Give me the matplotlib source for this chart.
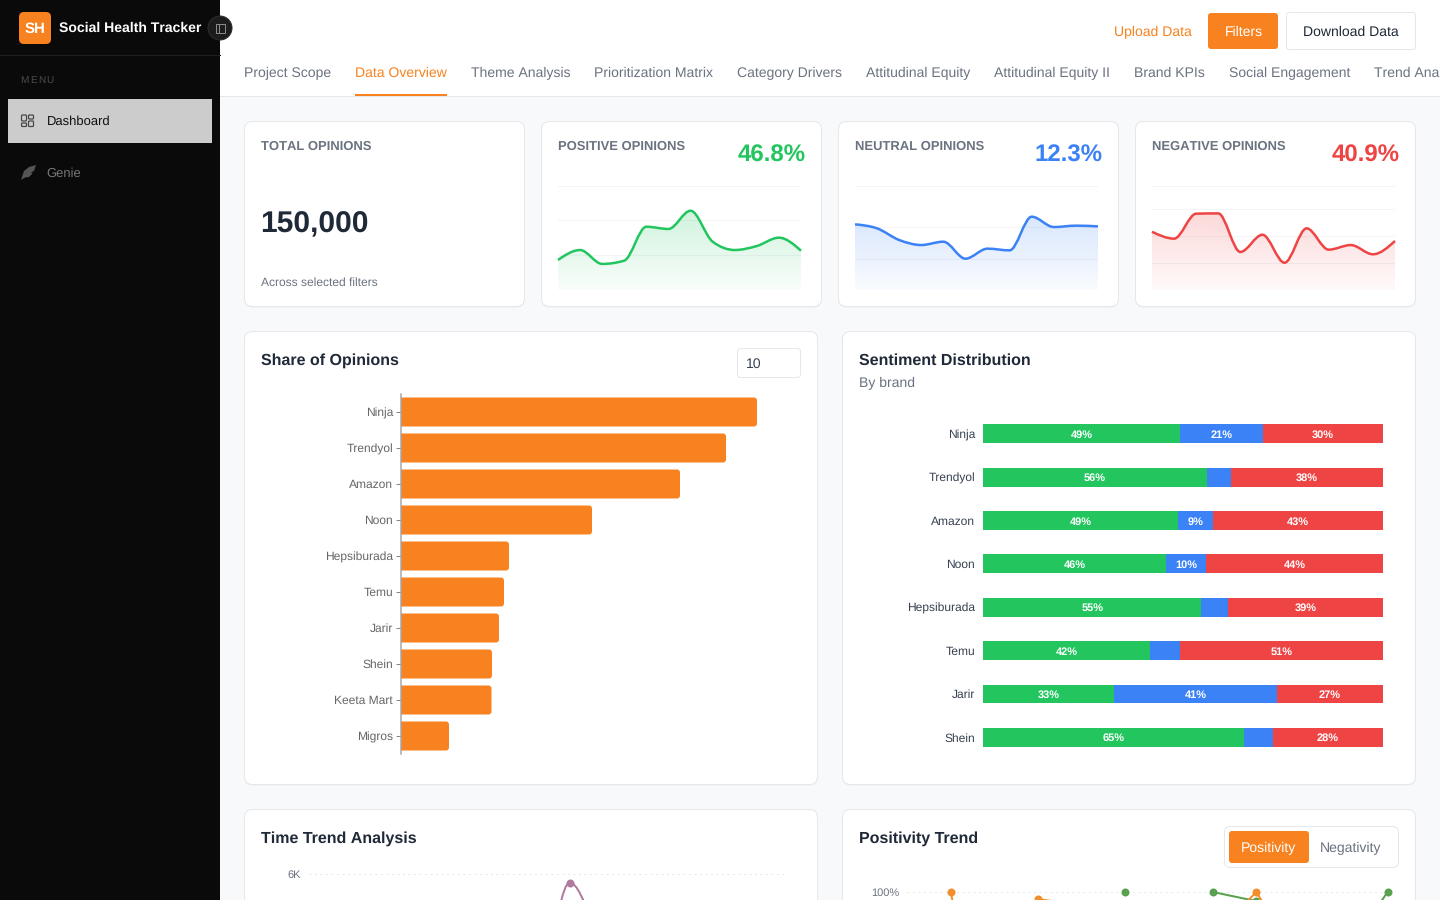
"""Social Health Tracker dashboard, redrawn with matplotlib."""

import numpy as np
import matplotlib
matplotlib.use("Agg")
import matplotlib.pyplot as plt
from matplotlib.patches import FancyBboxPatch, Rectangle, Circle, PathPatch, Polygon
from matplotlib.path import Path

plt.rcParams["font.family"] = ["Liberation Sans", "DejaVu Sans"]
plt.rcParams["text.hinting"] = "no_hinting"
plt.rcParams["text.hinting_factor"] = 1

W, H = 1440, 900
ORANGE = "#f7821f"
GREEN = "#22c55e"
BLUE = "#3b82f6"
RED = "#ef4444"
INK = "#1f2937"
MUTED = "#6b7280"
BORDER = "#e5e7eb"

# --- data ---
tabs = ["Project Scope", "Data Overview", "Theme Analysis", "Prioritization Matrix",
        "Category Drivers", "Attitudinal Equity", "Attitudinal Equity II", "Brand KPIs",
        "Social Engagement", "Trend Analysis"]
tab_starts = [244, 355, 471, 594, 737, 866, 994.5, 1134.5, 1229, 1374.5]

positive_spark = [17.3, 23, 15, 16.9, 36.4, 35.1, 45.6, 27.8, 23, 25.3, 30.1, 22.6]
neutral_spark = [10.48, 9.84, 7.98, 7.18, 7.71, 5.0, 6.6, 6.33, 11.7, 10.05, 10.27, 10.16]
negative_spark = [42.9, 37.8, 56.2, 56.4, 28, 40.7, 20.1, 45.4, 29.7, 33.1, 26.3, 36.1]

share_brands = ["Ninja", "Trendyol", "Amazon", "Noon", "Hepsiburada", "Temu", "Jarir",
                "Shein", "Keeta Mart", "Migros"]
share_values = [356, 325, 279, 191, 108, 103, 98, 91, 90.5, 48]

sent_brands = ["Ninja", "Trendyol", "Amazon", "Noon", "Hepsiburada", "Temu", "Jarir", "Shein"]
sent_pos = [49.25, 55.9, 48.8, 45.8, 54.6, 41.8, 32.8, 65.2]
sent_neu = [20.75, 6.1, 8.6, 9.9, 6.7, 7.4, 40.6, 7.2]
sent_neg = [30, 38, 42.6, 44.3, 38.7, 50.8, 26.6, 27.6]

# only the top of the two lower charts is on screen
time_idx = [4, 5, 6, 7, 8]
time_vals = [0.9, 0.98, 5.77, 3.66, 3.5]
nan = float("nan")
pos_orange = [nan, 100, 0, 96.6, 93.6, nan, nan, 79, 100, 64, nan, nan]
pos_green = [nan, nan, nan, nan, nan, 100, nan, 100, 95.6, nan, 68.5, 100]


def px(v):
    # css px -> pt at dpi 100
    return v * 0.72


def px_axes(x0, y0, x1, y1):
    # axes from pixel box, y measured from the top of the page
    ax = fig.add_axes([x0 / W, 1 - y1 / H, (x1 - x0) / W, (y1 - y0) / H])
    ax.patch.set_alpha(0)
    return ax


def box(x0, y0, x1, y1, fc="white", ec="none", r=8, lw=1.0, z=1):
    p = FancyBboxPatch((x0, y0), x1 - x0, y1 - y0, boxstyle=f"round,pad=0,rounding_size={r}",
                       fc=fc, ec=ec, lw=px(lw), zorder=z)
    bg.add_patch(p)
    return p


def label(x, y, s, size=14, color=INK, ha="left", weight="normal", z=5):
    # y is the middle of the capitals, baseline keeps a row of tabs level
    bg.text(x, y + size * 0.36, s, fontsize=px(size), color=color, ha=ha, va="baseline",
            fontweight=weight, zorder=z)


def monotone_path(xs, ys):
    # same idea as d3 curveMonotoneX
    xs = np.asarray(xs, float)
    ys = np.asarray(ys, float)
    h = np.diff(xs)
    s = np.diff(ys) / h
    m = np.zeros(len(xs))
    for i in range(1, len(xs) - 1):
        p = (s[i - 1] * h[i] + s[i] * h[i - 1]) / (h[i - 1] + h[i])
        m[i] = (np.sign(s[i - 1]) + np.sign(s[i])) * min(abs(s[i - 1]), abs(s[i]), 0.5 * abs(p))
    m[0] = (3 * s[0] - m[1]) / 2
    m[-1] = (3 * s[-1] - m[-2]) / 2
    verts = [(xs[0], ys[0])]
    codes = [Path.MOVETO]
    for i in range(len(xs) - 1):
        d = h[i] / 3
        verts += [(xs[i] + d, ys[i] + m[i] * d), (xs[i + 1] - d, ys[i + 1] - m[i + 1] * d),
                  (xs[i + 1], ys[i + 1])]
        codes += [Path.CURVE4] * 3
    return verts, codes


def sparkline(x0, vals, ticks, ymax, color):
    ax = px_axes(x0, 185.7, x0 + 243, 290)
    xs = np.arange(len(vals))
    verts, codes = monotone_path(xs, vals)
    rgba = np.zeros((64, 1, 4))
    rgba[..., :3] = matplotlib.colors.to_rgb(color)
    rgba[..., 3] = np.linspace(0.03, 0.27, 64)[:, None]
    img = ax.imshow(rgba, extent=(0, len(vals) - 1, 0, ymax), origin="lower", aspect="auto", zorder=2.5)
    area = verts + [(xs[-1], 0), (0, 0), verts[0]]
    area_codes = codes + [Path.LINETO, Path.LINETO, Path.CLOSEPOLY]
    clip = PathPatch(Path(area, area_codes), fc="none", ec="none", transform=ax.transData)
    ax.add_patch(clip)
    img.set_clip_path(clip)
    ax.add_patch(PathPatch(Path(verts, codes), fc="none", ec=color, lw=px(2.5), zorder=3, clip_on=False))
    ax.set_xlim(0, len(vals) - 1)
    ax.set_ylim(0, ymax)
    ax.set_yticks(ticks)
    ax.set_xticks([])
    ax.tick_params(left=False, labelleft=False)
    ax.grid(axis="y", color="#f3f4f6", lw=px(1))
    ax.set_axisbelow(True)
    for sp in ax.spines.values():
        sp.set_visible(False)


fig = plt.figure(figsize=(W / 100, H / 100), dpi=100, facecolor="#f8f9fb")

# page chrome lives on one full-size axes in pixel coordinates
bg = fig.add_axes([0, 0, 1, 1])
bg.set_xlim(0, W)
bg.set_ylim(H, 0)
bg.axis("off")

bg.add_patch(Rectangle((220, 0), W - 220, 96, fc="white", ec="none"))
bg.plot([220, W], [96, 96], color=BORDER, lw=px(1))
bg.add_patch(Rectangle((0, 0), 220, H, fc="#0a0a0a", ec="none", zorder=2))
bg.plot([0, 220], [55, 55], color="#1f1f1f", lw=px(1), zorder=3)

box(19, 12, 51, 44, fc=ORANGE, r=5, z=3)
label(35, 28, "SH", 14.5, "white", ha="center", weight="bold")
label(59, 27, "Social Health Tracker", 14, "white", weight="bold")
bg.add_patch(Circle((220, 28), 12, fc="#1c1c1c", ec="#2e2e2e", lw=px(1), zorder=6))
bg.add_patch(Rectangle((215.5, 23.5), 9, 9, fc="none", ec="#8a8a8a", lw=px(1), zorder=7))
bg.plot([218.5, 218.5], [23.5, 32.5], color="#8a8a8a", lw=px(1), zorder=7)

# letter spaced in the page, so one letter at a time
for ch, cx in zip("MENU", [20, 30, 38.5, 46.5]):
    label(cx, 79.5, ch, 10, "#4b4b4b")
bg.add_patch(Rectangle((8, 99), 204, 44, fc="#cccccc", ec="none", zorder=3))
for bx, by, bw, bh in [(21.5, 115, 5, 6), (28.5, 115, 5, 4), (21.5, 123, 5, 3.5), (28.5, 121, 5, 5.5)]:
    box(bx, by, bx + bw, by + bh, fc="none", ec="#444444", r=1, lw=1.2, z=4)
label(47, 120.5, "Dashboard", 13, "#111111")
bg.add_patch(Polygon([(21, 180), (24, 171), (29, 167), (36, 165), (34, 171), (31, 172.5),
                      (32.5, 173.5), (29, 177), (25, 177.5)], fc="#555555", ec="none", zorder=4))
label(46.5, 172.5, "Genie", 13, "#777777")

for name, xs in zip(tabs, tab_starts):
    label(xs, 72, name, 14, ORANGE if name == "Data Overview" else MUTED)
bg.add_patch(Rectangle((355, 94), 92, 2, fc=ORANGE, ec="none", zorder=3))

label(1114.5, 31, "Upload Data", 14, ORANGE)
box(1208, 13, 1278, 49, fc=ORANGE, r=3)
label(1243.5, 31, "Filters", 14, "white", ha="center")
box(1286.5, 12.5, 1415.5, 49.5, ec=BORDER, r=3)
label(1351, 31, "Download Data", 14, INK, ha="center")

# cards
for x0, x1 in [(244.5, 524.5), (541.5, 821.5), (838.5, 1118.5), (1135.5, 1415.5)]:
    box(x0, 122, x1, 307.5, fc="#eceef1", r=8, z=1)
    box(x0, 121.5, x1, 306.5, ec=BORDER, z=1)
for x0, x1 in [(244.5, 817.5), (842.5, 1415.5)]:
    box(x0, 332, x1, 785.5, fc="#eceef1", r=8, z=1)
    box(x0, 331.5, x1, 784.5, ec=BORDER, z=1)
    box(x0, 809.5, x1, 960, ec=BORDER, z=1)

# kpi text
label(261, 145.5, "TOTAL OPINIONS", 12.55, MUTED, weight="bold")
label(260.5, 222, "150,000", 30, INK, weight="bold")
label(261, 282, "Across selected filters", 12, MUTED)
kpi_titles = ["POSITIVE OPINIONS", "NEUTRAL OPINIONS", "NEGATIVE OPINIONS"]
kpi_pct = ["46.8%", "12.3%", "40.9%"]
kpi_col = [GREEN, BLUE, RED]
for i in range(3):
    label(558 + 297 * i, 145.5, kpi_titles[i], 12.55, MUTED, weight="bold")
    label(805.5 + 297 * i, 153.5, kpi_pct[i], 24, kpi_col[i], ha="right", weight="bold")

sparkline(558, positive_spark, [0, 20, 40, 60], 60, GREEN)
sparkline(855, neutral_spark, [0, 5, 10, 16.65], 16.65, BLUE)
sparkline(1152, negative_spark, [0, 20, 40, 60, 76.8], 76.8, RED)

# share of opinions
label(261, 358.8, "Share of Opinions", 16, INK, weight="bold")
box(737.5, 348.5, 800.5, 377.5, ec=BORDER, r=3)
label(746, 363, "10", 14, "#374151")

ax = px_axes(401, 394, 801, 754)
ys = np.arange(len(share_brands))
bars = ax.barh(ys, share_values, height=29 / 36, color=ORANGE)
for r in list(bars):
    # square bars -> rounded at the right end, left end hidden by axes clip
    x, y, w, h = r.get_x(), r.get_y(), r.get_width(), r.get_height()
    ax.add_patch(FancyBboxPatch((x - 6, y), w + 6, h, boxstyle="round,pad=0,rounding_size=3",
                                mutation_aspect=1 / 36, fc=ORANGE, ec="none"))
    r.set_visible(False)
ax.set_xlim(0, 400)
ax.set_ylim(len(share_brands) - 0.5, -0.5)
ax.set_yticks(ys, share_brands)
ax.set_xticks([])
ax.tick_params(axis="y", length=3.6, width=px(1), color="#888888", labelcolor="#666666",
               labelsize=px(12), pad=px(3))
for k in ["top", "right", "bottom"]:
    ax.spines[k].set_visible(False)
ax.spines["left"].set_color("#a6a6a6")
ax.spines["left"].set_linewidth(px(1.5))

# sentiment distribution
label(859, 359.5, "Sentiment Distribution", 16, INK, weight="bold")
label(859, 382, "By brand", 14, MUTED)

ax = px_axes(983, 412.3, 1383, 759)
ys = np.arange(len(sent_brands))
left = np.zeros(len(sent_brands))
for vals, col in [(sent_pos, GREEN), (sent_neu, BLUE), (sent_neg, RED)]:
    ax.barh(ys, vals, left=left, height=19 / 43.375, color=col)
    for y, l, v in zip(ys, left, vals):
        if v >= 8:
            ax.text(l + v / 2, y, f"{v:.0f}%", ha="center", va="center_baseline", color="white",
                    fontsize=px(11), fontweight="bold")
    left += np.array(vals)
ax.set_xlim(0, 100)
ax.set_ylim(len(sent_brands) - 0.5, -0.5)
ax.set_yticks(ys, sent_brands)
ax.set_xticks([])
ax.tick_params(axis="y", length=0, labelcolor="#374151", labelsize=px(12), pad=px(8))
for sp in ax.spines.values():
    sp.set_visible(False)

# time trend, runs off the bottom of the page
label(261, 836.7, "Time Trend Analysis", 16, INK, weight="bold")
ax = px_axes(309, 874, 787, 1100)
verts, codes = monotone_path(time_idx, time_vals)
ax.add_patch(PathPatch(Path(verts, codes), fc="none", ec="#b07aa1", lw=px(2)))
ax.plot(time_idx, time_vals, "o", color="#b07aa1", ms=px(8), mec="none", zorder=3)
ax.set_xlim(0, 11)
ax.set_ylim(0, 6)
ax.set_yticks([6], ["6K"])
ax.set_xticks([])
ax.tick_params(axis="y", length=0, labelcolor=MUTED, labelsize=px(11), pad=px(8))
ax.grid(axis="y", color=BORDER, lw=px(1), linestyle=(0, (2, 3.5)))
for sp in ax.spines.values():
    sp.set_visible(False)

# positivity trend
label(859, 836.7, "Positivity Trend", 16, INK, weight="bold")
box(1224.5, 826.5, 1398.5, 867.5, ec=BORDER, r=6)
box(1229, 831, 1309, 863, fc=ORANGE, r=3)
label(1268.5, 847, "Positivity", 14, "white", ha="center")
label(1351, 847, "Negativity", 14, MUTED, ha="center")

ax = px_axes(907, 892, 1387.5, 1100)
idx = np.arange(12)
ax.plot(idx, pos_green, "-o", color="#59a14f", lw=px(2), ms=px(8), mec="none", clip_on=False, zorder=3)
ax.plot(idx, pos_orange, "-o", color="#f28e2b", lw=px(2), ms=px(8), mec="none", clip_on=False, zorder=4)
ax.set_xlim(0, 11)
ax.set_ylim(0, 100)
ax.set_yticks([100], ["100%"])
ax.set_xticks([])
ax.tick_params(axis="y", length=0, labelcolor=MUTED, labelsize=px(11), pad=px(8))
ax.grid(axis="y", color=BORDER, lw=px(1), linestyle=(0, (2, 3.5)))
ax.set_axisbelow(True)
for sp in ax.spines.values():
    sp.set_visible(False)

fig.savefig("out.png", dpi=100, facecolor=fig.get_facecolor())
